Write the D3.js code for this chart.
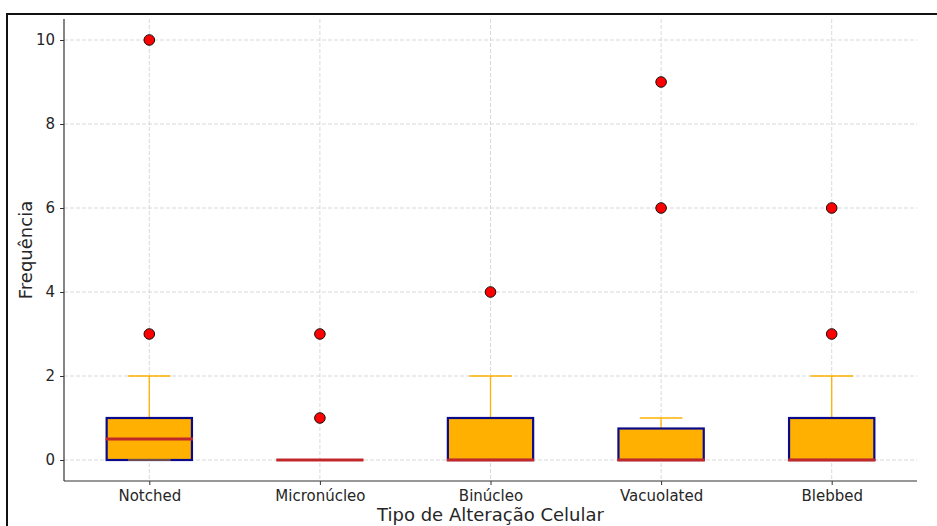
<!DOCTYPE html>
<html>
<head>
<meta charset="utf-8">
<script src="https://cdn.jsdelivr.net/npm/d3@7"></script>
<style>
  body { margin: 0; background: #fff; }
  text { font-family: "DejaVu Sans", sans-serif; fill: #262626; }
</style>
</head>
<body>
<div id="chart"></div>
<script>
// box statistics
const categories = ["Notched", "Micronúcleo", "Binúcleo", "Vacuolated", "Blebbed"];
const q1 = [0, 0, 0, 0, 0];
const medians = [0.5, 0, 0, 0, 0];
const q3 = [1, 0, 1, 0.75, 1];
const whiskerLow = [0, 0, 0, 0, 0];
const whiskerHigh = [2, 0, 2, 1, 2];
const outliers = [[3, 10], [1, 3], [4], [6, 9], [3, 6]];
const yTicks = [0, 2, 4, 6, 8, 10];

const width = 937, height = 526;
const margin = {top: 19, right: 20, bottom: 45, left: 64};
const plotW = width - margin.left - margin.right;
const plotH = height - margin.top - margin.bottom;

const svg = d3.select("#chart").append("svg")
    .attr("width", width)
    .attr("height", height);

// outer frame (cropped figure border)
svg.append("rect")
    .attr("x", 7).attr("y", 14)
    .attr("width", width + 10).attr("height", height + 10)
    .attr("fill", "none")
    .attr("stroke", "#111")
    .attr("stroke-width", 2);

const g = svg.append("g")
    .attr("transform", "translate(" + margin.left + "," + margin.top + ")");

const x = d3.scaleLinear().domain([0.5, 5.5]).range([0, plotW]);
const y = d3.scaleLinear().domain([-0.5, 10.5]).range([plotH, 0]);
const boxHalf = (x(1.25) - x(1));

// grid
g.append("g").selectAll("line")
    .data(yTicks)
    .enter().append("line")
    .attr("x1", 0).attr("x2", plotW)
    .attr("y1", d => y(d)).attr("y2", d => y(d))
    .attr("stroke", "#cfcfcf").attr("stroke-dasharray", "4,2").attr("stroke-width", 0.8);
g.append("g").selectAll("line")
    .data(categories)
    .enter().append("line")
    .attr("x1", (d, i) => x(i + 1)).attr("x2", (d, i) => x(i + 1))
    .attr("y1", 0).attr("y2", plotH)
    .attr("stroke", "#cfcfcf").attr("stroke-dasharray", "4,2").attr("stroke-width", 0.8);

// boxes
const boxes = g.selectAll(".box")
    .data(categories)
    .enter().append("g")
    .attr("class", "box");

// whiskers
boxes.append("line")
    .attr("x1", (d, i) => x(i + 1)).attr("x2", (d, i) => x(i + 1))
    .attr("y1", (d, i) => y(q3[i])).attr("y2", (d, i) => y(whiskerHigh[i]))
    .attr("stroke", "#FFB000").attr("stroke-width", 1.3);
boxes.append("line")
    .attr("x1", (d, i) => x(i + 1)).attr("x2", (d, i) => x(i + 1))
    .attr("y1", (d, i) => y(q1[i])).attr("y2", (d, i) => y(whiskerLow[i]))
    .attr("stroke", "#FFB000").attr("stroke-width", 1.3);

boxes.append("rect")
    .attr("x", (d, i) => x(i + 1) - boxHalf)
    .attr("width", boxHalf * 2)
    .attr("y", (d, i) => y(q3[i]))
    .attr("height", (d, i) => y(q1[i]) - y(q3[i]))
    .attr("fill", "#FFB000")
    .attr("stroke", "#0a0a8c")
    .attr("stroke-width", 2.2);

// caps
boxes.append("line")
    .attr("x1", (d, i) => x(i + 1) - boxHalf / 2).attr("x2", (d, i) => x(i + 1) + boxHalf / 2)
    .attr("y1", (d, i) => y(whiskerHigh[i])).attr("y2", (d, i) => y(whiskerHigh[i]))
    .attr("stroke", "#FFB000").attr("stroke-width", 1.5);
boxes.append("line")
    .attr("x1", (d, i) => x(i + 1) - boxHalf / 2).attr("x2", (d, i) => x(i + 1) + boxHalf / 2)
    .attr("y1", (d, i) => y(whiskerLow[i])).attr("y2", (d, i) => y(whiskerLow[i]))
    .attr("stroke", "#FFB000").attr("stroke-opacity", 0.55).attr("stroke-width", 1.5);

// medians
boxes.append("line")
    .attr("x1", (d, i) => x(i + 1) - boxHalf - 1).attr("x2", (d, i) => x(i + 1) + boxHalf + 1)
    .attr("y1", (d, i) => y(medians[i])).attr("y2", (d, i) => y(medians[i]))
    .attr("stroke", "#C0282A").attr("stroke-width", 3);

// outliers
boxes.each(function (d, i) {
    d3.select(this).selectAll("circle")
        .data(outliers[i])
        .enter().append("circle")
        .attr("cx", x(i + 1))
        .attr("cy", v => y(v))
        .attr("r", 5.3)
        .attr("fill", "#FF0000")
        .attr("stroke", "#111")
        .attr("stroke-width", 1);
});

// axes
const yAxis = g.append("g")
    .call(d3.axisLeft(y).tickValues(yTicks).tickSize(4).tickPadding(5));
const xAxis = g.append("g")
    .attr("transform", "translate(0," + plotH + ")")
    .call(d3.axisBottom(x).tickValues([1, 2, 3, 4, 5])
        .tickFormat(d => categories[d - 1]).tickSize(4).tickPadding(5));

[yAxis, xAxis].forEach(a => {
    a.select(".domain").attr("stroke", "#333").attr("stroke-width", 1.2);
    a.selectAll(".tick line").attr("stroke", "#333");
    a.selectAll(".tick text").style("font-size", "15px").attr("fill", "#262626");
});
yAxis.select(".domain").attr("d", "M0," + plotH + "V0");
xAxis.select(".domain").attr("d", "M0,0H" + plotW);

// axis labels
svg.append("text")
    .attr("x", margin.left + plotW / 2)
    .attr("y", 521)
    .attr("text-anchor", "middle")
    .style("font-size", "18px")
    .text("Tipo de Alteração Celular");

svg.append("text")
    .attr("transform", "translate(32," + (margin.top + plotH / 2) + ") rotate(-90)")
    .attr("text-anchor", "middle")
    .style("font-size", "18px")
    .text("Frequência");
</script>
</body>
</html>
